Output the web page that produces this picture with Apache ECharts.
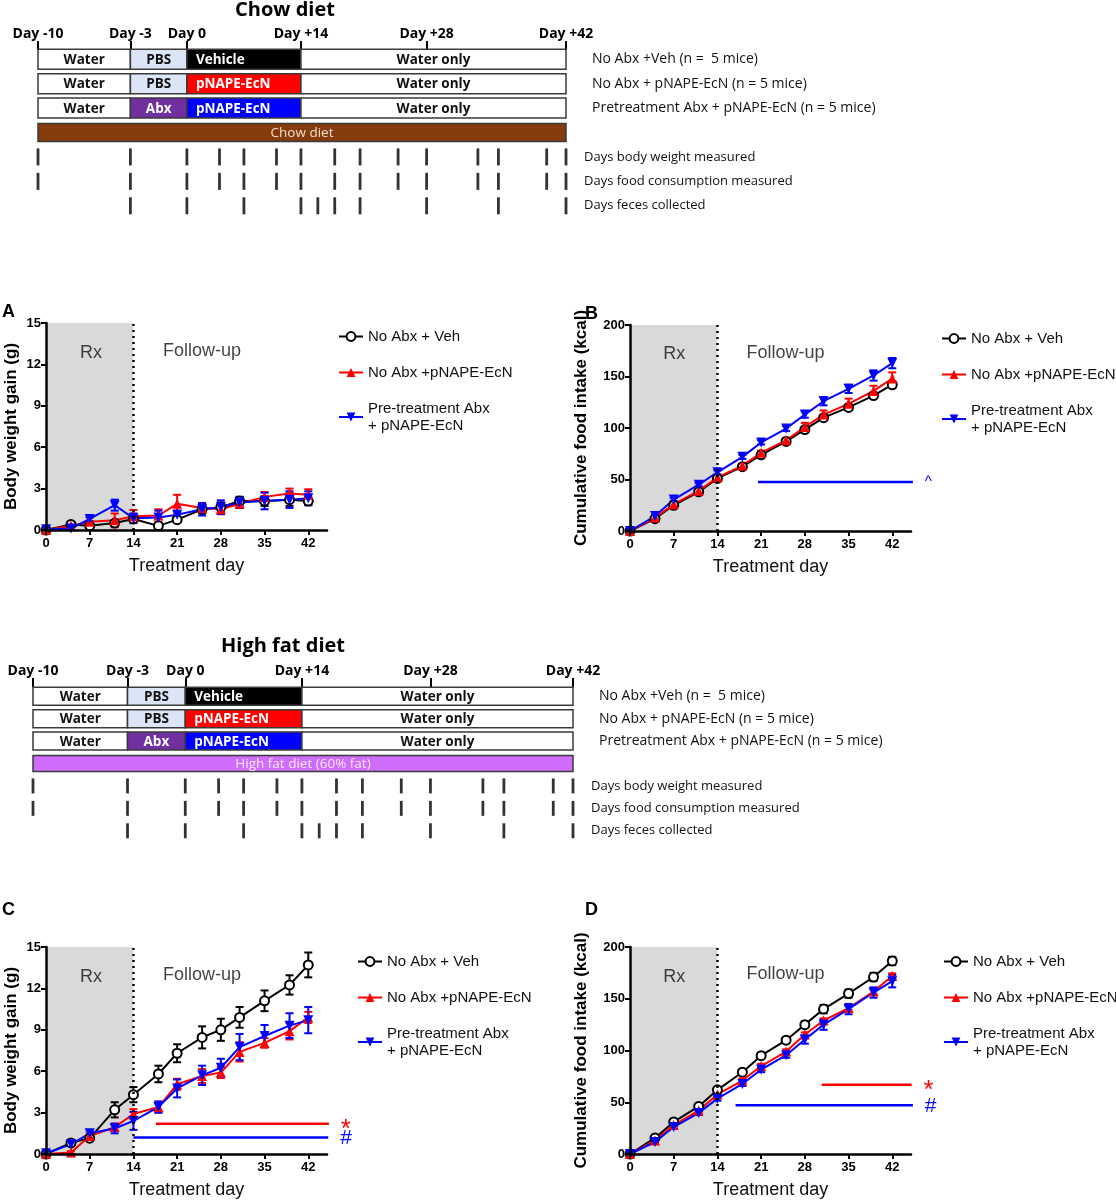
<!DOCTYPE html>
<html>
<head>
<meta charset="utf-8">
<script src="https://cdn.jsdelivr.net/npm/echarts@6/dist/echarts.min.js"></script>
<style>
  html, body { margin: 0; background: #fff; }
  #chart { width: 1116px; height: 1200px; }
</style>
</head>
<body>
<div id="chart"></div>
<script>
// ---------- data ----------
const days = [0, 4, 7, 11, 14, 18, 21, 25, 28, 31, 35, 39, 42];
const xTicks = [0, 7, 14, 21, 28, 35, 42];
const groupNames = ['No Abx + Veh', 'No Abx +pNAPE-EcN', 'Pre-treatment Abx + pNAPE-EcN'];

// A: chow diet, body weight gain (g)
const chowBwVeh    = [0, 0.4, 0.3, 0.5, 0.8, 0.3, 0.75, 1.5, 1.65, 2.1, 2.1, 2.2, 2.1];
const chowBwVehErr = [0.05, 0.1, 0.15, 0.2, 0.2, 0.2, 0.2, 0.3, 0.35, 0.3, 0.35, 0.45, 0.3];
const chowBwPn     = [0, 0.3, 0.6, 0.7, 1.0, 1.05, 1.9, 1.6, 1.5, 1.9, 2.4, 2.65, 2.55];
const chowBwPnErr  = [0.05, 0.1, 0.3, 0.5, 0.45, 0.45, 0.65, 0.35, 0.35, 0.3, 0.35, 0.35, 0.4];
const chowBwAbx    = [0.05, 0.1, 0.8, 1.8, 0.85, 0.9, 1.1, 1.5, 1.65, 2.0, 2.1, 2.2, 2.3];
const chowBwAbxErr = [0.05, 0.1, 0.15, 0.4, 0.35, 0.5, 0.3, 0.45, 0.5, 0.4, 0.6, 0.6, 0.5];

// B: chow diet, cumulative food intake (kcal)
const chowFiVeh    = [0, 12, 25, 38, 51, 62.5, 74, 87, 98.5, 110, 120, 131.5, 142];
const chowFiVehErr = [0.5, 1, 1.5, 1.5, 1.5, 1.5, 1.5, 2, 2, 2, 2, 2.5, 2.5];
const chowFiPn     = [0, 13, 26, 39, 52, 63.5, 76, 88, 101, 113, 123.5, 136, 148];
const chowFiPnErr  = [0.5, 1, 1.5, 1.5, 1.5, 1.5, 2, 2.5, 4, 4, 5, 5, 6];
const chowFiAbx    = [0, 14.5, 30.5, 45, 57, 72, 86, 99.5, 113, 126, 138, 151, 163];
const chowFiAbxErr = [0.5, 1, 1.5, 1.5, 2, 2, 2, 2.5, 3, 4, 4, 5, 5];

// C: high fat diet, body weight gain (g)
const hfdBwVeh    = [0, 0.8, 1.15, 3.2, 4.3, 5.8, 7.3, 8.45, 9.0, 9.9, 11.1, 12.25, 13.7];
const hfdBwVehErr = [0.05, 0.1, 0.15, 0.55, 0.55, 0.6, 0.65, 0.8, 0.8, 0.75, 0.75, 0.7, 0.9];
const hfdBwPn     = [0, 0.1, 1.3, 1.95, 2.9, 3.4, 5.05, 5.65, 5.9, 7.4, 8.05, 8.9, 9.9];
const hfdBwPnErr  = [0.05, 0.1, 0.2, 0.25, 0.35, 0.4, 0.4, 0.5, 0.4, 0.7, 0.35, 0.6, 0.4];
const hfdBwAbx    = [0.05, 0.7, 1.5, 1.85, 2.4, 3.4, 4.75, 5.7, 6.25, 7.75, 8.55, 9.3, 9.7];
const hfdBwAbxErr = [0.05, 0.1, 0.2, 0.35, 0.65, 0.4, 0.65, 0.7, 0.65, 0.95, 0.8, 0.9, 0.95];

// D: high fat diet, cumulative food intake (kcal)
const hfdFiVeh    = [0, 15.5, 31, 46, 62, 79, 95, 110, 125, 140, 155, 171, 186.5];
const hfdFiVehErr = [0.5, 1, 1.5, 2, 2, 2, 2.5, 3, 3, 4, 4, 4, 4];
const hfdFiPn     = [0, 13, 28, 42, 57.5, 71, 85, 99, 115.5, 129, 141, 157, 172];
const hfdFiPnErr  = [0.5, 1, 1, 1.5, 2, 2, 2, 2, 2, 2, 2, 2.5, 2.5];
const hfdFiAbx    = [0, 11.6, 26, 39.7, 53.5, 67.7, 81.6, 95.5, 110.6, 125, 140, 156, 167];
const hfdFiAbxErr = [0.5, 1, 1.5, 2, 2, 2, 2.5, 2.5, 4, 5, 5, 5, 6];

// significance bars: [from day, to day, y value, mark]
const chowFiSigAbx = [20.5, 45.3, 47.5, '^'];
const hfdBwSigPn   = [17.6, 45.3, 2.2, '*'];
const hfdBwSigAbx  = [14, 45.2, 1.2, '#'];
const hfdFiSigPn   = [30.7, 45.1, 67, '*'];
const hfdFiSigAbx  = [16.9, 45.3, 47, '#'];

// study schedule (days)
const scheduleLabelDays = [-10, -3, 0, 14, 28, 42];
const scheduleRows = [
  [[-10, -3, 'Water'], [-3, 0, 'PBS'], [0, 14, 'Vehicle'], [14, 42, 'Water only']],
  [[-10, -3, 'Water'], [-3, 0, 'PBS'], [0, 14, 'pNAPE-EcN'], [14, 42, 'Water only']],
  [[-10, -3, 'Water'], [-3, 0, 'Abx'], [0, 14, 'pNAPE-EcN'], [14, 42, 'Water only']]
];
const weightDays = [-10, -3, 0, 4, 7, 11, 14, 18, 21, 25, 28, 33, 35, 40, 42];
const foodDays   = [-10, -3, 0, 4, 7, 11, 14, 18, 21, 25, 28, 33, 35, 40, 42];
const fecesDays  = [-3, 0, 7, 14, 16, 18, 21, 28, 35, 42];
const rowLabels = [
  ['No Abx +Veh (n =  5 mice)', 'No Abx + pNAPE-EcN (n = 5 mice)', 'Pretreatment Abx + pNAPE-EcN (n = 5 mice)', ' ',
   'Days body weight measured', 'Days food consumption measured', 'Days feces collected'],
  ['No Abx +Veh (n =  5 mice)', 'No Abx + pNAPE-EcN (n = 5 mice)', 'Pretreatment Abx + pNAPE-EcN (n = 5 mice)', ' ',
   'Days body weight measured', 'Days food consumption measured', 'Days feces collected']
];

// ---------- styles ----------
const COLORS = ['#000000', '#ff0000', '#0000ff'];
const FONT = 'Arial, "Liberation Sans", sans-serif';
const SFONT = '"Open Sans", sans-serif';

// schedule is drawn not to scale: piecewise mapping of day -> bar fraction
const anchorDays = [-10, -3, 0, 7, 14, 21, 28, 35, 42];
const anchorFrac = [0, 0.175, 0.282, 0.39, 0.498, 0.61, 0.736, 0.872, 1];
const warp = d => {
  for (let i = 1; i < anchorDays.length; i++) {
    if (d <= anchorDays[i]) {
      const t = (d - anchorDays[i - 1]) / (anchorDays[i] - anchorDays[i - 1]);
      return anchorFrac[i - 1] + t * (anchorFrac[i] - anchorFrac[i - 1]);
    }
  }
  return 1;
};

const boxStyle = (label, row, diet) => {
  if (row === 3) return { fill: diet.fill, text: diet.text, weight: 'normal', left: false };
  switch (label) {
    case 'PBS': return { fill: '#dbe5f6', text: '#111', weight: 'bold' };
    case 'Vehicle': return { fill: '#000', text: '#fff', weight: 'bold', left: true };
    case 'Abx': return { fill: '#7030a0', text: '#fff', weight: 'bold' };
    case 'pNAPE-EcN': return { fill: row === 1 ? '#ff0000' : '#0000ff', text: '#fff', weight: 'bold', left: true };
    default: return { fill: '#fff', text: '#111', weight: 'bold' };
  }
};

const grids = [], xAxes = [], yAxes = [], series = [], legends = [], titles = [];

// ---------- schedule blocks ----------
function addSchedule(gi, box, sizes, dietName, diet, title) {
  grids.push(box);
  xAxes.push({
    type: 'value', gridIndex: gi, min: 0, max: 1, position: 'top', offset: sizes.offset,
    axisLine: { show: false },
    splitLine: { show: false },
    axisTick: { show: true, customValues: scheduleLabelDays.map(warp), length: 9, lineStyle: { color: '#000', width: 2 } },
    axisLabel: {
      customValues: scheduleLabelDays.map(warp), margin: 9,
      fontFamily: SFONT, fontWeight: 'bold', fontSize: 14, color: '#000',
      formatter: v => {
        const d = scheduleLabelDays.find(x => Math.abs(warp(x) - v) < 1e-6);
        return d === undefined ? '' : 'Day ' + (d > 0 ? '+' + d : d);
      }
    }
  });
  yAxes.push({
    type: 'category', gridIndex: gi, inverse: true, position: 'right',
    data: rowLabels[gi],
    axisLine: { show: false }, axisTick: { show: false }, splitLine: { show: false },
    axisLabel: {
      margin: 18, color: '#111', fontFamily: SFONT,
      formatter: (v, i) => (i < 3 ? '{g|' + v + '}' : '{d|' + v + '}'),
      rich: { g: { fontSize: 14, padding: [0, 0, 0, 8], fontFamily: SFONT }, d: { fontSize: 13, fontFamily: SFONT } }
    }
  });
  const data = [];
  scheduleRows.forEach((segs, r) => segs.forEach(s => data.push([warp(s[0]), warp(s[1]), r, s[2]])));
  data.push([warp(-10), warp(42), 3, dietName]);
  series.push({
    type: 'custom', xAxisIndex: gi, yAxisIndex: gi, silent: true,
    encode: { x: [0, 1], y: 2 },
    data,
    renderItem(params, api) {
      const r = api.value(2);
      const label = data[params.dataIndex][3];
      const p0 = api.coord([api.value(0), r]);
      const p1 = api.coord([api.value(1), r]);
      const h = r === 3 ? sizes.bar : sizes.box;
      const st = boxStyle(label, r, diet);
      return {
        type: 'group',
        children: [
          { type: 'rect', shape: { x: p0[0], y: p0[1] - h / 2, width: p1[0] - p0[0], height: h },
            style: { fill: st.fill, stroke: '#3a3a3a', lineWidth: 1.5 } },
          { type: 'text', x: st.left ? p0[0] + 9 : (p0[0] + p1[0]) / 2, y: p0[1] + 1,
            style: { text: label, fill: st.text, font: st.weight + ' 13.5px ' + SFONT,
                     align: st.left ? 'left' : 'center', verticalAlign: 'middle' } }
        ]
      };
    }
  });
  [weightDays, foodDays, fecesDays].forEach((ds, k) => {
    series.push({
      type: 'scatter', xAxisIndex: gi, yAxisIndex: gi, silent: true,
      symbol: 'rect', symbolSize: [2.8, sizes.tick], itemStyle: { color: '#000' },
      data: ds.map(d => [warp(d), 4 + k])
    });
  });
  titles.push(title);
}

addSchedule(0, { left: 38, top: 47, width: 528, height: 171 }, { box: 20, bar: 18, tick: 17, offset: -3 },
  'Chow diet', { fill: '#843c0c', text: '#f3dccd' },
  { text: 'Chow diet', left: 285, top: 0, textAlign: 'center', padding: 0,
    textStyle: { fontFamily: SFONT, fontWeight: 'bold', fontSize: 20, color: '#000' } });
addSchedule(1, { left: 33, top: 685, width: 540, height: 157 }, { box: 18, bar: 16, tick: 15, offset: -2 },
  'High fat diet (60% fat)', { fill: '#cf6cfb', text: '#f9e8ff' },
  { text: 'High fat diet', left: 283, top: 636, textAlign: 'center', padding: 0,
    textStyle: { fontFamily: SFONT, fontWeight: 'bold', fontSize: 20, color: '#000' } });

// ---------- line panels ----------
const panels = [
  { letter: 'A', box: { left: 46, top: 323, width: 281, height: 207 }, ymax: 15, step: 3,
    yName: 'Body weight gain (g)', means: [chowBwVeh, chowBwPn, chowBwAbx], errs: [chowBwVehErr, chowBwPnErr, chowBwAbxErr],
    sigs: [], notes: [[7.2, 12.8, 'Rx'], [25, 13, 'Follow-up']], legend: [333, 323], letterPos: [2, 303] },
  { letter: 'B', box: { left: 630, top: 325, width: 281, height: 206 }, ymax: 200, step: 50,
    yName: 'Cumulative food intake (kcal)', means: [chowFiVeh, chowFiPn, chowFiAbx], errs: [chowFiVehErr, chowFiPnErr, chowFiAbxErr],
    sigs: [[chowFiSigAbx, 2]], notes: [[7.1, 172, 'Rx'], [24.9, 173, 'Follow-up']], legend: [936, 325], letterPos: [585, 305] },
  { letter: 'C', box: { left: 46, top: 947, width: 281, height: 208 }, ymax: 15, step: 3,
    yName: 'Body weight gain (g)', means: [hfdBwVeh, hfdBwPn, hfdBwAbx], errs: [hfdBwVehErr, hfdBwPnErr, hfdBwAbxErr],
    sigs: [[hfdBwSigPn, 1], [hfdBwSigAbx, 2]], notes: [[7.2, 12.85, 'Rx'], [25, 13, 'Follow-up']], legend: [352, 948], letterPos: [2, 901] },
  { letter: 'D', box: { left: 630, top: 947, width: 281, height: 208 }, ymax: 200, step: 50,
    yName: 'Cumulative food intake (kcal)', means: [hfdFiVeh, hfdFiPn, hfdFiAbx], errs: [hfdFiVehErr, hfdFiPnErr, hfdFiAbxErr],
    sigs: [[hfdFiSigPn, 1], [hfdFiSigAbx, 2]], notes: [[7.1, 171, 'Rx'], [24.9, 173.5, 'Follow-up']], legend: [938, 948], letterPos: [585, 901] }
];

const errorSeries = (gi, mean, err, color) => ({
  type: 'custom', xAxisIndex: gi, yAxisIndex: gi, silent: true, z: 3,
  encode: { x: 0, y: [1, 2] },
  data: days.map((d, i) => [d, mean[i] - err[i], mean[i] + err[i]]),
  renderItem(params, api) {
    const lo = api.coord([api.value(0), api.value(1)]);
    const hi = api.coord([api.value(0), api.value(2)]);
    const w = 4;
    const ls = { stroke: color, lineWidth: 2 };
    return {
      type: 'group',
      children: [
        { type: 'line', shape: { x1: hi[0], y1: hi[1], x2: lo[0], y2: lo[1] }, style: ls },
        { type: 'line', shape: { x1: hi[0] - w, y1: hi[1], x2: hi[0] + w, y2: hi[1] }, style: ls },
        { type: 'line', shape: { x1: lo[0] - w, y1: lo[1], x2: lo[0] + w, y2: lo[1] }, style: ls }
      ]
    };
  }
});

const markSize = { '^': 15, '*': 26, '#': 21 };
const markOffset = { '^': [0, 0], '*': [0, 6], '#': [0, 1] };

panels.forEach((p, k) => {
  const gi = k + 2;
  grids.push(p.box);
  xAxes.push({
    type: 'value', gridIndex: gi, min: 0, max: 45,
    name: 'Treatment day', nameLocation: 'middle', nameGap: 27,
    nameTextStyle: { fontFamily: FONT, fontSize: 18, color: '#111' },
    axisLine: { show: true, onZero: false, lineStyle: { color: '#000', width: 2.5 } },
    axisTick: { show: true, customValues: xTicks, length: 5, lineStyle: { color: '#000', width: 2 } },
    axisLabel: { customValues: xTicks, margin: 7, fontFamily: FONT, fontWeight: 'bold', fontSize: 13, color: '#000' },
    splitLine: { show: false }, z: 10
  });
  yAxes.push({
    type: 'value', gridIndex: gi, min: 0, max: p.ymax, interval: p.step,
    name: p.yName, nameLocation: 'middle', nameRotate: 90, nameGap: p.ymax > 100 ? 40 : 26,
    nameTextStyle: { fontFamily: FONT, fontWeight: 'bold', fontSize: 17, color: '#000' },
    axisLine: { show: true, onZero: false, lineStyle: { color: '#000', width: 2.5 } },
    axisTick: { show: true, length: 5, lineStyle: { color: '#000', width: 2 } },
    axisLabel: { margin: 5, fontFamily: FONT, fontWeight: 'bold', fontSize: 13, color: '#000' },
    splitLine: { show: false }, z: 10
  });

  p.means.forEach((m, s) => {
    series.push(errorSeries(gi, m, p.errs[s], COLORS[s]));
  });
  p.means.forEach((m, s) => {
    const line = {
      name: groupNames[s], type: 'line', xAxisIndex: gi, yAxisIndex: gi, clip: false, z: 4,
      data: days.map((d, i) => [d, m[i]]),
      symbol: s === 0 ? 'circle' : 'triangle', symbolSize: s === 0 ? 9 : 10, symbolRotate: s === 2 ? 180 : 0,
      lineStyle: { color: COLORS[s], width: 2 },
      itemStyle: s === 0 ? { color: '#fff', borderColor: '#000', borderWidth: 2 } : { color: COLORS[s] }
    };
    if (s === 0) {
      line.markArea = { silent: true, itemStyle: { color: '#d9d9d9' }, data: [[{ xAxis: 0 }, { xAxis: 14 }]] };
      line.markLine = { silent: true, symbol: ['none', 'none'], label: { show: false },
        lineStyle: { color: '#000', width: 2.5, type: [2, 4] }, data: [{ xAxis: 14 }] };
    }
    series.push(line);
  });

  p.sigs.forEach(([sig, c]) => {
    series.push({
      type: 'line', xAxisIndex: gi, yAxisIndex: gi, clip: false, silent: true, symbol: 'none',
      lineStyle: { color: COLORS[c], width: 2.5 },
      data: [[sig[0], sig[2]], [sig[1], sig[2]]],
      endLabel: { show: true, formatter: sig[3], color: COLORS[c], distance: 12, offset: markOffset[sig[3]],
        fontFamily: FONT, fontSize: markSize[sig[3]] }
    });
  });

  series.push({
    type: 'scatter', xAxisIndex: gi, yAxisIndex: gi, silent: true, symbolSize: 0, z: 5,
    data: p.notes,
    label: { show: true, position: 'inside', formatter: q => q.value[2],
      fontFamily: FONT, fontSize: 18, color: '#111' }
  });

  legends.push({
    orient: 'vertical', left: p.legend[0], top: p.legend[1], itemGap: 19,
    itemWidth: 24, itemHeight: 11, data: groupNames, selectedMode: false,
    formatter: n => (n === groupNames[2] ? 'Pre-treatment Abx\n+ pNAPE-EcN' : n),
    textStyle: { fontFamily: FONT, fontSize: 15, color: '#111', lineHeight: 17 }
  });

  titles.push({ text: p.letter, left: p.letterPos[0], top: p.letterPos[1], padding: 0,
    textStyle: { fontFamily: FONT, fontWeight: 'bold', fontSize: 18, color: '#000' } });
});

const chart = echarts.init(document.getElementById('chart'));
chart.setOption({
  animation: false,
  backgroundColor: '#fff',
  title: titles,
  grid: grids,
  xAxis: xAxes,
  yAxis: yAxes,
  legend: legends,
  series
});
</script>
</body>
</html>
